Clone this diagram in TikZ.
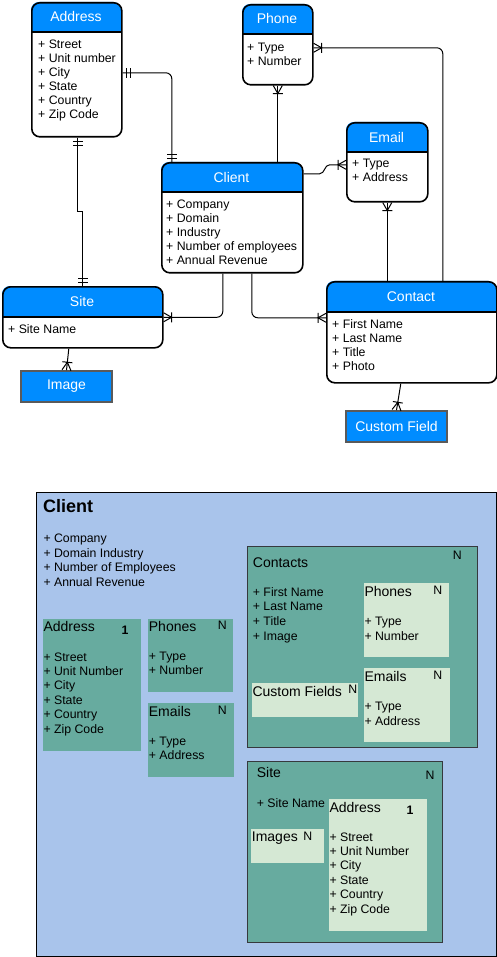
\documentclass[tikz,border=0pt]{standalone}
\usepackage{fontspec}
\setmainfont{Liberation Sans}
\usetikzlibrary{calc,arrows.meta}
\definecolor{hdr}{HTML}{008CFF}
\definecolor{cbg}{HTML}{A9C4EB}
\definecolor{grn}{HTML}{67AB9F}
\definecolor{lgr}{HTML}{D5E8D4}
\definecolor{bord}{HTML}{36393D}
\definecolor{sgray}{HTML}{5A5A5A}

\pgfdeclarearrow{
  name = CrowBar,
  setup code = {
    \pgfarrowssettipend{0pt}
    \pgfarrowssetlineend{0pt}
    \pgfarrowssetbackend{-9pt}
    \pgfarrowshullpoint{0pt}{5pt}
    \pgfarrowshullpoint{0pt}{-5pt}
    \pgfarrowshullpoint{-9pt}{5pt}
    \pgfarrowshullpoint{-9pt}{-5pt}
  },
  drawing code = {
    \pgfsetcornersarced{\pgfpointorigin}
    \pgfpathmoveto{\pgfqpoint{0pt}{4.5pt}}
    \pgfpathlineto{\pgfqpoint{-8pt}{0pt}}
    \pgfpathlineto{\pgfqpoint{0pt}{-4.5pt}}
    \pgfpathmoveto{\pgfqpoint{-8pt}{5pt}}
    \pgfpathlineto{\pgfqpoint{-8pt}{-5pt}}
    \pgfusepathqstroke
  }
}
\pgfdeclarearrow{
  name = DblBar,
  setup code = {
    \pgfarrowssettipend{0pt}
    \pgfarrowssetlineend{0pt}
    \pgfarrowssetbackend{-9pt}
    \pgfarrowshullpoint{0pt}{5pt}
    \pgfarrowshullpoint{0pt}{-5pt}
    \pgfarrowshullpoint{-9pt}{5pt}
    \pgfarrowshullpoint{-9pt}{-5pt}
  },
  drawing code = {
    \pgfsetcornersarced{\pgfpointorigin}
    \pgfpathmoveto{\pgfqpoint{-3.5pt}{5pt}}
    \pgfpathlineto{\pgfqpoint{-3.5pt}{-5pt}}
    \pgfpathmoveto{\pgfqpoint{-7.5pt}{5pt}}
    \pgfpathlineto{\pgfqpoint{-7.5pt}{-5pt}}
    \pgfusepathqstroke
  }
}

\tikzset{
  conn/.style={draw=black, line width=1pt},
  entline/.style={draw=black, line width=1.6pt},
  ttl/.style={font=\fontsize{14}{16}\selectfont, text=white, inner sep=0pt},
  itm/.style={font=\fontsize{12.3}{14}\selectfont, inner sep=0pt, anchor=base west},
  btl/.style={font=\fontsize{14}{16}\selectfont, inner sep=0pt, anchor=base west},
  nmark/.style={font=\fontsize{12.3}{14}\selectfont, inner sep=0pt},
  onemark/.style={font=\fontsize{12.3}{14}\selectfont\bfseries, inner sep=0pt},
  sbox/.style={draw=sgray, line width=1.6pt, fill=hdr, text=white,
    font=\fontsize{14}{16}\selectfont, inner sep=0pt},
  grnbox/.style={fill=grn, draw=none},
  lgrbox/.style={fill=lgr, draw=none},
  outbox/.style={draw=bord, line width=1.3pt, fill=grn},
}

% name, x1, y1, x2, y2, ydiv, title
\newcommand\entity[7]{%
  \fill[white, rounded corners=8pt] (#2,#3) rectangle (#4,#5);
  \begin{scope}
    \clip ({#2-2},{#3-2}) rectangle ({#4+2},#6);
    \fill[hdr, rounded corners=8pt] (#2,#3) rectangle (#4,#5);
  \end{scope}
  \draw[entline] (#2,#6) -- (#4,#6);
  \node[entline, rounded corners=8pt, inner sep=0pt, minimum width={#4-#2},
    minimum height={#5-#3}, anchor=north west] (#1) at (#2,#3) {};
  \node[ttl] (#1-t) at ({(#2+#4)/2},{(#3+#6)/2}) {#7};
}
% prefix, x, first baseline, step, items
\newcommand\blist[5]{%
  \foreach \t [count=\i] in {#5} {\node[itm] (#1\i) at (#2,{#3+(\i-1)*#4}) {\t};}
}

\begin{document}
\begin{tikzpicture}[x=1pt,y=-1pt]
\useasboundingbox (0,0) rectangle (497,957);

% ---------- ER diagram ----------
\entity{addr}{31}{2}{121}{136}{32}{Address}
\blist{addri}{38}{48.3}{14}{+ Street,+ Unit number,+ City,+ State,+ Country,+ Zip Code}

\entity{phone}{242}{4}{312}{84}{34}{Phone}
\blist{phonei}{247}{52}{14}{+ Type,+ Number}

\entity{email}{346}{122}{427}{201}{152}{Email}
\blist{emaili}{352}{167.8}{14}{+ Type,+ Address}

\entity{client}{161}{162}{302}{272}{192}{Client}
\blist{clienti}{166}{208.5}{14}{+ Company,+ Domain,+ Industry,+ Number of employees,+ Annual Revenue}

\entity{site}{2}{286}{162}{347}{317}{Site}
\blist{sitei}{8}{333.3}{14}{+ Site Name}

\entity{contact}{326}{281}{496}{382}{312}{Contact}
\blist{contacti}{332}{328.3}{14}{+ First Name,+ Last Name,+ Title,+ Photo}

\node[sbox, minimum width=91, minimum height=31] (image) at (66.5,386.5) {Image};
\node[sbox, minimum width=101, minimum height=31] (cfield) at (396.5,426.5) {Custom Field};

% connectors
\draw[conn, rounded corners=6pt, arrows={DblBar-DblBar}]
  ([yshift=-3pt]addr.east) -| ([xshift=-60.5pt]client.north);
\draw[conn, arrows={DblBar-DblBar}]
  ([xshift=1pt]addr.south) -- ++(0,74) -| (site.north);
\draw[conn, rounded corners=6pt, arrows={-CrowBar}]
  ([xshift=-9.5pt]client.south) |- (site.east);
\draw[conn, rounded corners=6pt, arrows={-CrowBar}]
  ([xshift=19.5pt]client.south) |- ([yshift=14.5pt]contact.west);
\draw[conn, arrows={CrowBar-}]
  (phone.south) -- (phone.south |- client.north);
\draw[conn, arrows={-CrowBar}]
  ([yshift=44pt]client.east) -- ++(16,0) to[out=0,in=180] ++(10,-9)
  -- ([yshift=-2.5pt]email.west);
\draw[conn, arrows={CrowBar-}]
  (email.south) -- (email.south |- contact.north);
\draw[conn, rounded corners=6pt, arrows={CrowBar-}]
  ([yshift=-3pt]phone.east) -| ([xshift=31pt]contact.north);
\draw[conn, arrows={-CrowBar}]
  ([xshift=-14pt]site.south) -- (image.north);
\draw[conn, arrows={-CrowBar}]
  ([xshift=-11pt]contact.south) -- (cfield.north);

% ---------- nested document diagram ----------
\node[fill=cbg, draw=black, line width=1pt, inner sep=0pt, minimum width=460,
  minimum height=464, anchor=north west] (cbox) at (36,492) {};
\node[inner sep=0pt, anchor=base west, font=\fontsize{18}{20}\selectfont\bfseries]
  (cttl) at (43,512.5) {Client};
\blist{cbi}{43.3}{542.6}{14.57}{+ Company,+ Domain Industry,+ Number of Employees,+ Annual Revenue}

% Address (client)
\node[grnbox, minimum width=98, minimum height=132, inner sep=0pt, anchor=north west]
  (caddr) at (43,619) {};
\node[btl] (caddr-t) at (43.3,631.7) {Address};
\node[onemark] (caddr-n) at (125,630.7) {1};
\blist{caddri}{43.3}{661}{14.4}{+ Street,+ Unit Number,+ City,+ State,+ Country,+ Zip Code}

% Phones (client)
\node[grnbox, minimum width=85, minimum height=73, inner sep=0pt, anchor=north west]
  (cph) at (148,619) {};
\node[btl] (cph-t) at (148.7,631.3) {Phones};
\node[nmark] (cph-n) at (222.3,625.7) {N};
\blist{cphi}{148.7}{660}{14.6}{+ Type,+ Number}

% Emails (client)
\node[grnbox, minimum width=86, minimum height=74, inner sep=0pt, anchor=north west]
  (cem) at (148,703) {};
\node[btl] (cem-t) at (148.7,716) {Emails};
\node[nmark] (cem-n) at (222.3,710.3) {N};
\blist{cemi}{148.7}{745}{14.5}{+ Type,+ Address}

% Contacts
\node[outbox, minimum width=230, minimum height=201, inner sep=0pt, anchor=north west]
  (cct) at (247,546) {};
\node[btl] (cct-t) at (252.7,567.3) {Contacts};
\node[nmark] (cct-n) at (457.3,555) {N};
\blist{ccti}{252.7}{596}{14.7}{+ First Name,+ Last Name,+ Title,+ Image}

\node[lgrbox, minimum width=85, minimum height=74, inner sep=0pt, anchor=north west]
  (ctph) at (364,583) {};
\node[btl] (ctph-t) at (364.3,596.7) {Phones};
\node[nmark] (ctph-n) at (437.7,590.7) {N};
\blist{ctphi}{364.3}{625.3}{14.7}{+ Type,+ Number}

\node[lgrbox, minimum width=86, minimum height=74, inner sep=0pt, anchor=north west]
  (ctem) at (364,668) {};
\node[btl] (ctem-t) at (364.3,681) {Emails};
\node[nmark] (ctem-n) at (437.7,675) {N};
\blist{ctemi}{364.3}{710.3}{14.7}{+ Type,+ Address}

\node[lgrbox, minimum width=106, minimum height=34, inner sep=0pt, anchor=north west]
  (ctcf) at (252,683) {};
\node[btl] (ctcf-t) at (252.3,696.3) {Custom Fields};
\node[nmark] (ctcf-n) at (352.7,689) {N};

% Site
\node[outbox, minimum width=195, minimum height=181, inner sep=0pt, anchor=north west]
  (cst) at (247,761) {};
\node[btl] (cst-t) at (256.7,777.7) {Site};
\node[nmark] (cst-n) at (430,775.7) {N};
\blist{csti}{256.7}{807}{14}{+ Site Name}

\node[lgrbox, minimum width=73, minimum height=34, inner sep=0pt, anchor=north west]
  (cim) at (251,829) {};
\node[btl] (cim-t) at (251.7,841.7) {Images};
\node[nmark] (cim-n) at (307.7,836) {N};

\node[lgrbox, minimum width=98, minimum height=132, inner sep=0pt, anchor=north west]
  (csad) at (329,799) {};
\node[btl] (csad-t) at (329.3,812.3) {Address};
\node[onemark] (csad-n) at (410,810) {1};
\blist{csadi}{329.3}{841}{14.4}{+ Street,+ Unit Number,+ City,+ State,+ Country,+ Zip Code}

\end{tikzpicture}
\end{document}
